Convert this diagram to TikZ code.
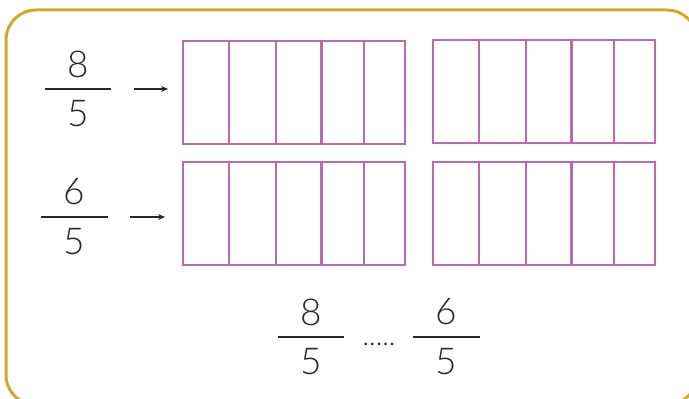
\documentclass[tikz,border=0pt]{standalone}
\usepackage{fontspec}
\setmainfont{Lato}[UprightFont={* Light}]
\usetikzlibrary{arrows.meta}
\definecolor{framegold}{RGB}{212,168,48}
\definecolor{cellpurple}{RGB}{186,106,176}
\definecolor{inkgray}{RGB}{40,40,40}

\begin{document}
\begin{tikzpicture}[x=1pt,y=1pt,
  fracbar/.style={fill=inkgray,inner sep=0pt,minimum width=66pt,minimum height=2pt},
  digit/.style={text=inkgray,font=\fontsize{37}{37}\selectfont,inner sep=0pt},
  cellbox/.style={draw=cellpurple,line width=2.4pt,inner sep=0pt,
    minimum width=222pt,minimum height=103pt,anchor=south west},
  gotoarrow/.style={-{Stealth[length=7pt,width=6pt]},inkgray,line width=1.1pt}]
\useasboundingbox (0,0) rectangle (689,399);
% frame:
\draw[framegold,line width=3pt,rounded corners=30pt] (6,389) rectangle (697,-6);
% boxes of fifths:
\node[cellbox] (boxa) at (182,254) {};
\node[cellbox] (boxb) at (432,255) {};
\node[cellbox] (boxc) at (182,133) {};
\node[cellbox] (boxd) at (432,133) {};
\foreach \b in {boxa,boxb,boxc,boxd}
  \foreach \dx in {47,94,139.5,182}
    \draw[cellpurple,line width=2.4pt]
      ([xshift=\dx pt]\b.north west) -- ([xshift=\dx pt]\b.south west);
% fractions on the left:
\node[fracbar] (fa) at (78,310) {};
\node[digit] (fanum) at ([yshift=25pt]fa.center) {8};
\node[digit] (faden) at ([yshift=-25pt]fa.center) {5};
\node[fracbar,minimum width=67pt] (fb) at (74.5,182) {};
\node[digit] (fbnum) at ([yshift=25pt]fb.center) {6};
\node[digit] (fbden) at ([yshift=-25pt]fb.center) {5};
\draw[gotoarrow,shorten <=23pt,shorten >=14pt] (fa.east) -- (fa.east -| boxa.west);
\draw[gotoarrow,shorten <=22pt,shorten >=17pt] (fb.east) -- (fb.east -| boxc.west);
% comparison at the bottom:
\node[fracbar] (fc) at (311,62) {};
\node[digit] (fcnum) at ([yshift=25pt]fc.center) {8};
\node[digit] (fcden) at ([yshift=-25pt]fc.center) {5};
\node[fracbar,minimum width=67pt] (fd) at (446.5,62) {};
\node[digit] (fdnum) at ([yshift=25pt]fd.center) {6};
\node[digit] (fdden) at ([yshift=-25pt]fd.center) {5};
\node[digit,font=\fontsize{28}{28}\selectfont] (dots) at (379,55) {.....};
\end{tikzpicture}
\end{document}
